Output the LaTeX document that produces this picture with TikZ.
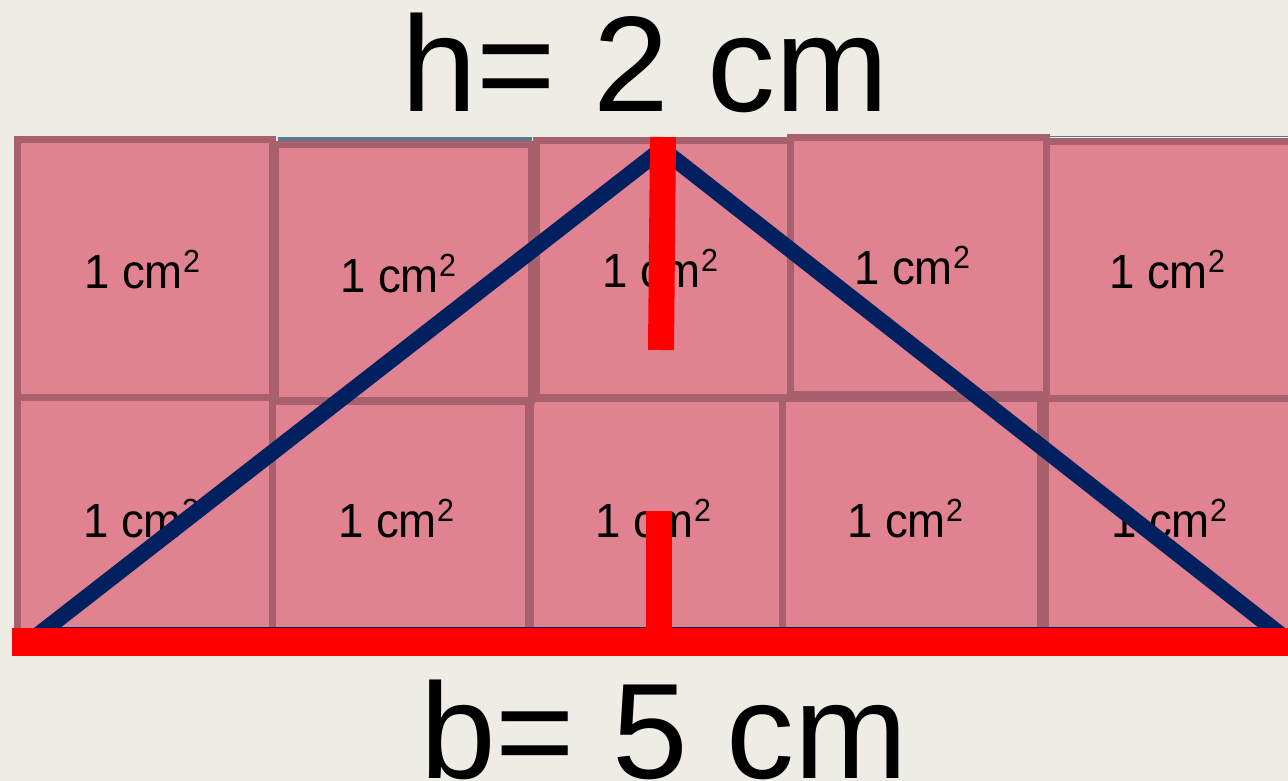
\documentclass[tikz,border=0pt]{standalone}
\usepackage{fontspec}
\setmainfont{Liberation Sans}
\definecolor{bg}{HTML}{EEECE4}
\definecolor{tile}{HTML}{E08290}
\definecolor{tileedge}{HTML}{A8606C}
\definecolor{navy}{HTML}{002060}
\definecolor{slateline}{HTML}{5B7B8A}
\newcommand\sqcm{\scalebox{0.95}[1]{1 cm\raisebox{16pt}{\fontsize{32}{32}\selectfont 2}}}
\begin{document}
\begin{tikzpicture}[x=1pt,y=-1pt,
  tilebox/.style={fill=tile,draw=tileedge,line width=7pt},
  lbl/.style={anchor=base west,inner sep=0pt,font=\fontsize{48}{48}\selectfont},
  big/.style={anchor=base,inner sep=0pt,font=\fontsize{136}{136}\selectfont},
  redbar/.style={draw=red,line width=26pt},
  tri/.style={draw=navy,line width=16pt}]
\fill[bg] (0,0) rectangle (1288,781);
\useasboundingbox (0,0) rectangle (1288,781);
% row 2 tiles
\draw[tilebox] (17,397) rectangle (272,645);
\draw[tilebox] (272,401) rectangle (528,645);
\draw[tilebox] (530,398) rectangle (782,645);
\draw[tilebox] (782,398) rectangle (1040,645);
\draw[tilebox] (1045,398) rectangle (1300,645);
% row 1 tiles
\draw[tilebox] (17,140) rectangle (272,397);
\draw[tilebox] (275,145) rectangle (531,400);
\draw[tilebox] (536,141) rectangle (793,397);
\draw[tilebox] (1046,141.5) rectangle (1300,398);
\draw[tilebox] (790,137.5) rectangle (1046,394);
% thin slate lines on top
\draw[slateline,line width=3.5pt] (278,139) -- (532,139);
\draw[slateline,line width=1pt] (1050,137) -- (1288,137);
% labels
\node[lbl] (a11) at (84,288) {\sqcm};
\node[lbl] (a12) at (340,292) {\sqcm};
\node[lbl] (a13) at (602,287) {\sqcm};
\node[lbl] (a14) at (854,284) {\sqcm};
\node[lbl] (a15) at (1109,288) {\sqcm};
\node[lbl] (a21) at (83,537) {\sqcm};
\node[lbl] (a22) at (338,537) {\sqcm};
\node[lbl] (a23) at (595,537) {\sqcm};
\node[lbl] (a24) at (847,537) {\sqcm};
\node[lbl] (a25) at (1111,537) {\sqcm};
% triangle
\coordinate (L) at (38,635);
\coordinate (A) at (662,149);
\coordinate (R) at (1281,635);
\draw[tri] (L) -- (A) -- (R) -- cycle;
% red height and base
\coordinate (h1) at (663,137);
\coordinate (h2) at (661,350);
\coordinate (s1) at (658.5,511);
\coordinate (s2) at (658.5,632);
\coordinate (b1) at (12,642);
\coordinate (b2) at (1288,642);
\draw[redbar] (h1) -- (h2);
\draw[redbar] (s1) -- (s2);
\draw[redbar,line width=28pt] (b1) -- (b2);
% titles
\node[big] (ht) at (645,112) {h= 2 cm};
\node[big] (bt) at (664,778) {b= 5 cm};
\end{tikzpicture}
\end{document}
